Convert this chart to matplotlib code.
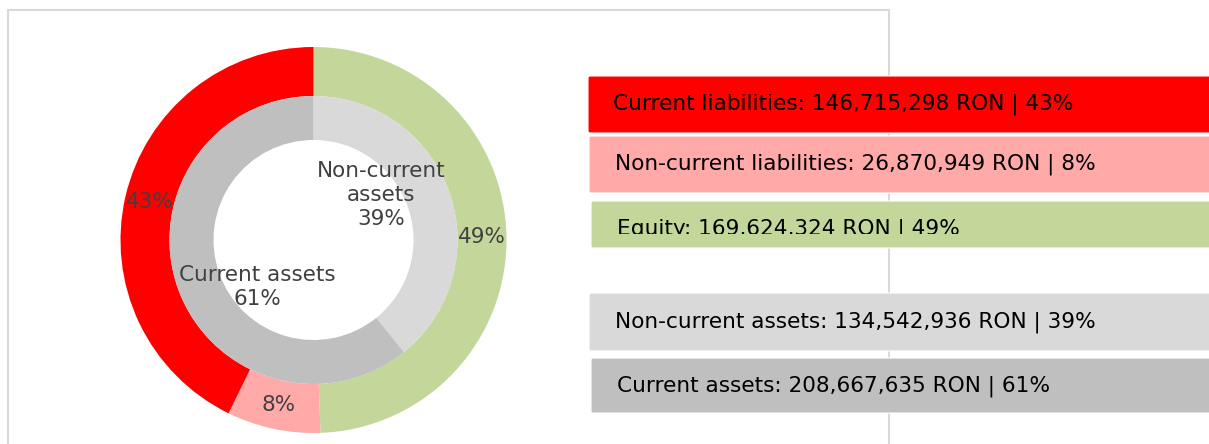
import matplotlib
matplotlib.use("Agg")
import matplotlib.pyplot as plt
from matplotlib.patches import FancyBboxPatch, Rectangle
from matplotlib.transforms import Bbox, TransformedBbox
import numpy as np

# ---- data ----
liab_labels = ["Equity", "Non-current liabilities", "Current liabilities"]
liab_values = [169624324, 26870949, 146715298]
liab_colors = ["#C4D79B", "#FFA9A9", "#FF0000"]

asset_labels = ["Non-current assets", "Current assets"]
asset_values = [134542936, 208667635]
asset_colors = ["#D9D9D9", "#BFBFBF"]

legend_order = ["Current liabilities", "Non-current liabilities", "Equity",
                None, "Non-current assets", "Current assets"]

W, H = 1209, 444
fig = plt.figure(figsize=(W / 100, H / 100), dpi=100)
ax = fig.add_axes([0, 0, 1, 1])

def py(y):  # pixel-from-top -> data y
    return H - y

cx, cy = 313.5, py(240)
R_out, R_mid, R_in = 193, 144, 100
txtcol = "#404040"

def pct(vals):
    tot = float(sum(vals))
    return [v / tot * 100 for v in vals]

# outer ring
wedges, _ = ax.pie(liab_values, colors=liab_colors, startangle=90, counterclock=False,
                   radius=R_out, center=(cx, cy),
                   wedgeprops=dict(width=R_out - R_mid, linewidth=0))
# inner ring
wedges2, _ = ax.pie(asset_values, colors=asset_colors, startangle=90, counterclock=False,
                    radius=R_mid, center=(cx, cy),
                    wedgeprops=dict(width=R_mid - R_in, linewidth=0))

ax.set_xlim(0, W)
ax.set_ylim(0, H)
ax.set_aspect("equal")
ax.axis("off")

# frame
ax.add_patch(Rectangle((8, py(460)), 881, 450, fill=False, ec="#D9D9D9", lw=1.5, zorder=0))

lp = pct(liab_values)
for w, p in zip(wedges, lp):
    ang = np.deg2rad((w.theta1 + w.theta2) / 2)
    r = (R_out + R_mid) / 2
    ax.text(cx + r * np.cos(ang), cy + r * np.sin(ang), f"{p:.0f}%", ha="center", va="center",
            fontsize=15.5, color=txtcol)

ap = pct(asset_values)
inner_text = ["Non-current\nassets\n{:.0f}%", "Current assets\n{:.0f}%"]
inner_pos = [(56.5, 81.5), (230, 73)]  # clockwise angle from top, radius
for fmt, p, (a, r) in zip(inner_text, ap, inner_pos):
    ang = np.deg2rad(90 - a)
    ax.text(cx + r * np.cos(ang), cy + r * np.sin(ang), fmt.format(p), ha="center", va="center",
            fontsize=15.5, color=txtcol, linespacing=1.25, multialignment="center")

# legend boxes
allv = dict(zip(liab_labels, liab_values))
allv.update(dict(zip(asset_labels, asset_values)))
allc = dict(zip(liab_labels, liab_colors))
allc.update(dict(zip(asset_labels, asset_colors)))
allp = dict(zip(liab_labels, lp))
allp.update(dict(zip(asset_labels, ap)))

boxes = [  # left, top, bottom, text-left, text-center-y, clip bottom
    (588, 76, 133, 613, 104, None),
    (589, 136, 193, 615, 164, None),
    (591, 201, 248, 617, 229, 234),
    None,
    (589, 293, 351, 615, 322, None),
    (591, 358, 413, 617, 386, None),
]
for name, b in zip(legend_order, boxes):
    if name is None:
        continue
    l, t, bt, tx, ty, clipb = b
    patch = FancyBboxPatch((l, py(bt)), 700, bt - t, boxstyle="round,pad=0,rounding_size=2",
                           fc=allc[name], ec="white", lw=0.8, zorder=2)
    ax.add_patch(patch)
    label = f"{name}: {allv[name]:,} RON | {allp[name]:.0f}%"
    tt = ax.text(tx, py(ty), label, ha="left", va="center", fontsize=15.6, color="black", zorder=3)
    if clipb is not None:
        tt.set_clip_path(None)
        tt.set_clip_box(TransformedBbox(Bbox.from_extents(l, py(clipb), l + 700, py(t)), ax.transData))
        tt.set_clip_on(True)

fig.savefig("out.png", dpi=100)
